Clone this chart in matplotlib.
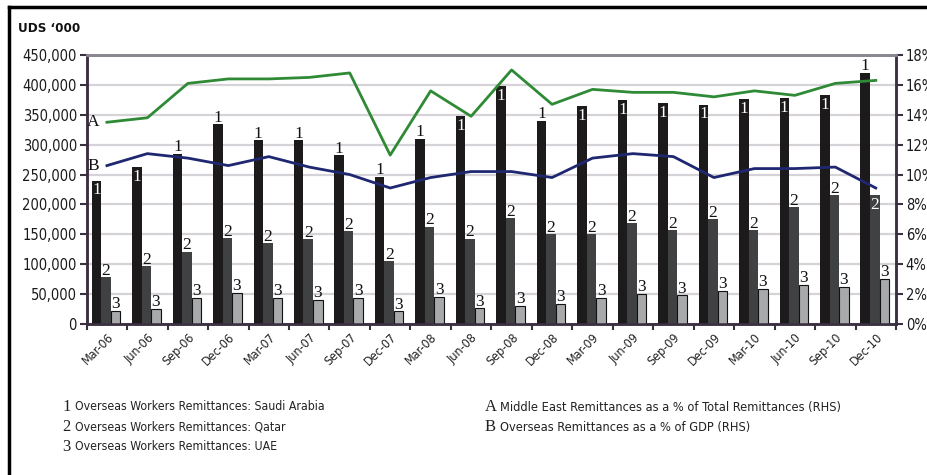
import numpy as np
import matplotlib
matplotlib.use('Agg')
import matplotlib.pyplot as plt
from matplotlib.ticker import FuncFormatter, MultipleLocator
from matplotlib.lines import Line2D

# data
quarters = ['Mar-06', 'Jun-06', 'Sep-06', 'Dec-06', 'Mar-07', 'Jun-07', 'Sep-07', 'Dec-07',
            'Mar-08', 'Jun-08', 'Sep-08', 'Dec-08', 'Mar-09', 'Jun-09', 'Sep-09', 'Dec-09',
            'Mar-10', 'Jun-10', 'Sep-10', 'Dec-10']
saudi = [240000, 262000, 284000, 334000, 307000, 307000, 282000, 246000, 309000, 348000,
         398000, 340000, 364000, 374000, 369000, 367000, 376000, 378000, 383000, 420000]
qatar = [78000, 97000, 121000, 144000, 135000, 142000, 156000, 105000, 163000, 143000,
         177000, 151000, 151000, 169000, 157000, 176000, 157000, 196000, 215000, 215000]
uae = [22000, 25000, 43000, 52000, 43000, 40000, 43000, 21000, 46000, 26000,
       30000, 33000, 44000, 51000, 48000, 56000, 59000, 66000, 62000, 75000]
me_share = [13.5, 13.8, 16.1, 16.4, 16.4, 16.5, 16.8, 11.3, 15.6, 13.9,
            17.0, 14.7, 15.7, 15.5, 15.5, 15.2, 15.6, 15.3, 16.1, 16.3]
gdp_share = [10.6, 11.4, 11.1, 10.6, 11.2, 10.5, 10.0, 9.1, 9.8, 10.2,
             10.2, 9.8, 11.1, 11.4, 11.2, 9.8, 10.4, 10.4, 10.5, 9.1]

legend_left = ['Overseas Workers Remittances: Saudi Arabia',
               'Overseas Workers Remittances: Qatar',
               'Overseas Workers Remittances: UAE']
legend_right = ['Middle East Remittances as a % of Total Remittances (RHS)',
                'Overseas Remittances as a % of GDP (RHS)']

# which bar labels sit inside the bar (white) instead of on top
inside_1 = {0, 1, 9, 10, 12, 13, 14, 15, 16, 17, 18}
inside_2 = {19}

sans = dict(family='DejaVu Sans', stretch='condensed')
serif = ['Liberation Serif', 'DejaVu Serif']

fig = plt.figure(figsize=(9.27, 4.75), dpi=100)
ax = fig.add_axes([86.7 / 927, 1 - 324 / 475, (896 - 86.7) / 927, (324 - 55) / 475])
ax2 = ax.twinx()

x = np.arange(len(quarters))
w = 0.235
c1, c2, c3 = '#1c1a1b', '#3f4143', '#a8a9ab'
ax.bar(x - 0.26, saudi, w, color=c1, zorder=3)
ax.bar(x - 0.025, qatar, w, color=c2, zorder=3)
ax.bar(x + 0.21, uae, w, color=c3, edgecolor='#111111', linewidth=0.8, zorder=3)

for i in x:
    if i in inside_1:
        ax.text(i - 0.26, saudi[i] - 3000, '1', ha='center', va='top', color='white',
                family=serif, fontsize=12.5, zorder=5)
    else:
        ax.text(i - 0.26, saudi[i] - 2000, '1', ha='center', va='bottom', color='#111111',
                family=serif, fontsize=12.5, zorder=5)
    if i in inside_2:
        ax.text(i - 0.025, qatar[i] - 3000, '2', ha='center', va='top', color='white',
                family=serif, fontsize=12.5, zorder=5)
    else:
        ax.text(i - 0.025, qatar[i] - 3000, '2', ha='center', va='bottom', color='#111111',
                family=serif, fontsize=12.5, zorder=5)
    ax.text(i + 0.21, uae[i] - 2000, '3', ha='center', va='bottom', color='#111111',
            family=serif, fontsize=12.5, zorder=5)

ax.set_xlim(-0.5, len(quarters) - 0.5)
ax.set_ylim(0, 450000)
ax.yaxis.set_major_locator(MultipleLocator(50000))
ax.yaxis.set_major_formatter(FuncFormatter(lambda v, p: '{:,.0f}'.format(v)))
ax.grid(axis='y', color='#d6d3d8', linewidth=1.6, zorder=0)
ax.set_axisbelow(True)

ax.set_xticks(x)
ax.set_xticklabels(quarters, rotation=45, ha='right', rotation_mode='anchor',
                   fontsize=9, color='#222222', **sans)
ax.set_xticks(np.arange(-0.5, len(quarters)), minor=True)
ax.tick_params(axis='x', which='major', length=0, pad=5)
ax.tick_params(axis='x', which='minor', length=4, width=1.5, color='#3a3040')
ax.tick_params(axis='y', length=5, width=1.5, color='#3a3040', labelsize=10.5,
               labelcolor='#1a1a1a', pad=2)
for lab in ax.get_yticklabels():
    lab.set_family('DejaVu Sans')
    lab.set_stretch('condensed')

ax2.plot(x, me_share, color='#2f8a36', linewidth=2, zorder=4)
ax2.plot(x, gdp_share, color='#1f2770', linewidth=2, zorder=4)
ax2.text(-0.2, me_share[0], 'A', ha='right', va='center', family=serif, fontsize=12.5, color='#111111')
ax2.text(-0.2, gdp_share[0], 'B', ha='right', va='center', family=serif, fontsize=12.5, color='#111111')
ax2.set_ylim(0, 18)
ax2.yaxis.set_major_locator(MultipleLocator(2))
ax2.yaxis.set_major_formatter(FuncFormatter(lambda v, p: '{:.0f}%'.format(v)))
ax2.tick_params(axis='y', length=5, width=1.5, color='#3a3040', labelsize=10.5,
                labelcolor='#1a1a1a', pad=2)
for lab in ax2.get_yticklabels():
    lab.set_family('DejaVu Sans')
    lab.set_stretch('condensed')

for a in (ax, ax2):
    a.spines['top'].set_color('#8a8790')
    a.spines['top'].set_linewidth(2)
    for s in ('left', 'right', 'bottom'):
        a.spines[s].set_color('#3a3040')
        a.spines[s].set_linewidth(1.8)

fig.text(18 / 927, 1 - 28 / 475, 'UDS \u2018000', fontsize=9.5,
         fontweight='bold', va='center', ha='left', color='#111111', **sans)

# legend block under the chart
rows = [407, 427, 447]
for k, txt in enumerate(legend_left):
    y = 1 - rows[k] / 475
    fig.text(62 / 927, y, str(k + 1), family=serif, fontsize=12, va='center', color='#222222')
    fig.text(75 / 927, y, txt, fontsize=8.8, va='center', color='#222222', **sans)
for k, txt in enumerate(legend_right):
    y = 1 - rows[k] / 475
    fig.text(485 / 927, y, 'AB'[k], family=serif, fontsize=12, va='center', color='#222222')
    fig.text(500 / 927, y, txt, fontsize=9.2, va='center', color='#222222', **sans)

# outer frame (top and left edges visible)
fig.add_artist(Line2D([9 / 927, 1.0], [1 - 7 / 475, 1 - 7 / 475], color='black', linewidth=2.5))
fig.add_artist(Line2D([9 / 927, 9 / 927], [1 - 7 / 475, 0.0], color='black', linewidth=2.5))

fig.savefig('out.png', dpi=100)
